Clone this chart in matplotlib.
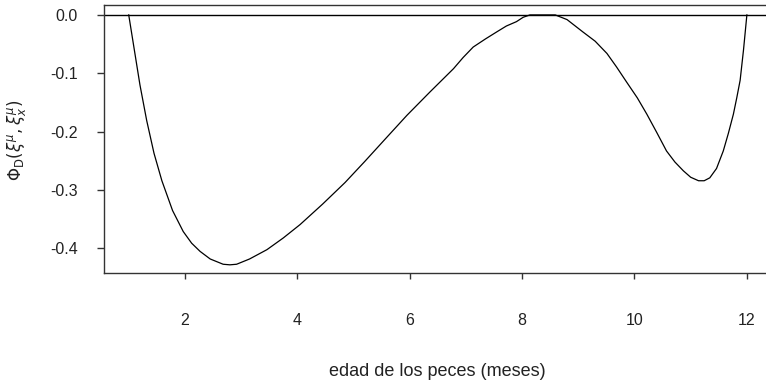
import matplotlib.pyplot as plt

### curve
edad = [1.00, 1.10, 1.20, 1.32, 1.45, 1.59, 1.78, 1.97, 2.12, 2.27, 2.45, 2.68, 2.80, 2.92,
        3.15, 3.46, 3.75, 4.05, 4.45, 4.85, 5.20, 5.56, 5.95, 6.36, 6.78, 6.95, 7.13, 7.35,
        7.55, 7.72, 7.90, 8.02, 8.14, 8.59, 8.80, 9.08, 9.30, 9.51, 9.68, 9.86, 10.05, 10.22,
        10.40, 10.57, 10.72, 10.87, 11.00, 11.14, 11.24, 11.34, 11.46, 11.58, 11.67, 11.76,
        11.82, 11.88, 11.94, 12.00]
phi = [0.0, -0.06, -0.12, -0.181, -0.237, -0.284, -0.335, -0.371, -0.391, -0.405, -0.418,
       -0.427, -0.428, -0.427, -0.418, -0.402, -0.382, -0.359, -0.324, -0.287, -0.251, -0.213,
       -0.172, -0.132, -0.092, -0.073, -0.055, -0.041, -0.029, -0.019, -0.0115, -0.004, 0.0,
       0.0, -0.008, -0.029, -0.045, -0.066, -0.089, -0.115, -0.142, -0.170, -0.202, -0.233,
       -0.252, -0.267, -0.278, -0.284, -0.284, -0.279, -0.263, -0.233, -0.203, -0.170,
       -0.142, -0.112, -0.060, 0.0]

xticks = [2, 4, 6, 8, 10, 12]
yticks = [0.0, -0.1, -0.2, -0.3, -0.4]

plt.rcParams['font.family'] = ['Liberation Sans', 'DejaVu Sans']

fig = plt.figure(figsize=(7.66, 3.84), dpi=100)
ax = fig.add_axes([104/766, 111/384, 667.6/766, 268/384])

ax.plot(edad, phi, color='black', linewidth=0.9)
ax.axhline(0, color='black', linewidth=1.0)

ax.set_xlim(0.56, 12.44)
ax.set_ylim(-0.442, 0.017)

for s in ax.spines.values():
    s.set_color('#333333')
    s.set_linewidth(1.0)

ax.set_xticks(xticks)
ax.set_xticklabels([str(t) for t in xticks])
ax.set_yticks(yticks)
ax.set_yticklabels([f'{t:.1f}' for t in yticks])
ax.tick_params(axis='x', direction='out', length=4, width=1, pad=25, labelsize=11.5, colors='#333333', labelcolor='#222222')
ax.tick_params(axis='y', direction='out', length=5, width=1, pad=14, labelsize=11.5, colors='#333333', labelcolor='#222222')

fig.text(437/766, 1 - 372/384, 'edad de los peces (meses)', ha='center', va='center', fontsize=13, color='#222222')
fig.text(17/766, 1 - 140/384, r'$\Phi_{\mathrm{D}}(\xi^{\mu},\xi^{\mu}_x)$', rotation=90, ha='center', va='center', fontsize=12, color='#222222')

fig.savefig('out.png', dpi=100)
